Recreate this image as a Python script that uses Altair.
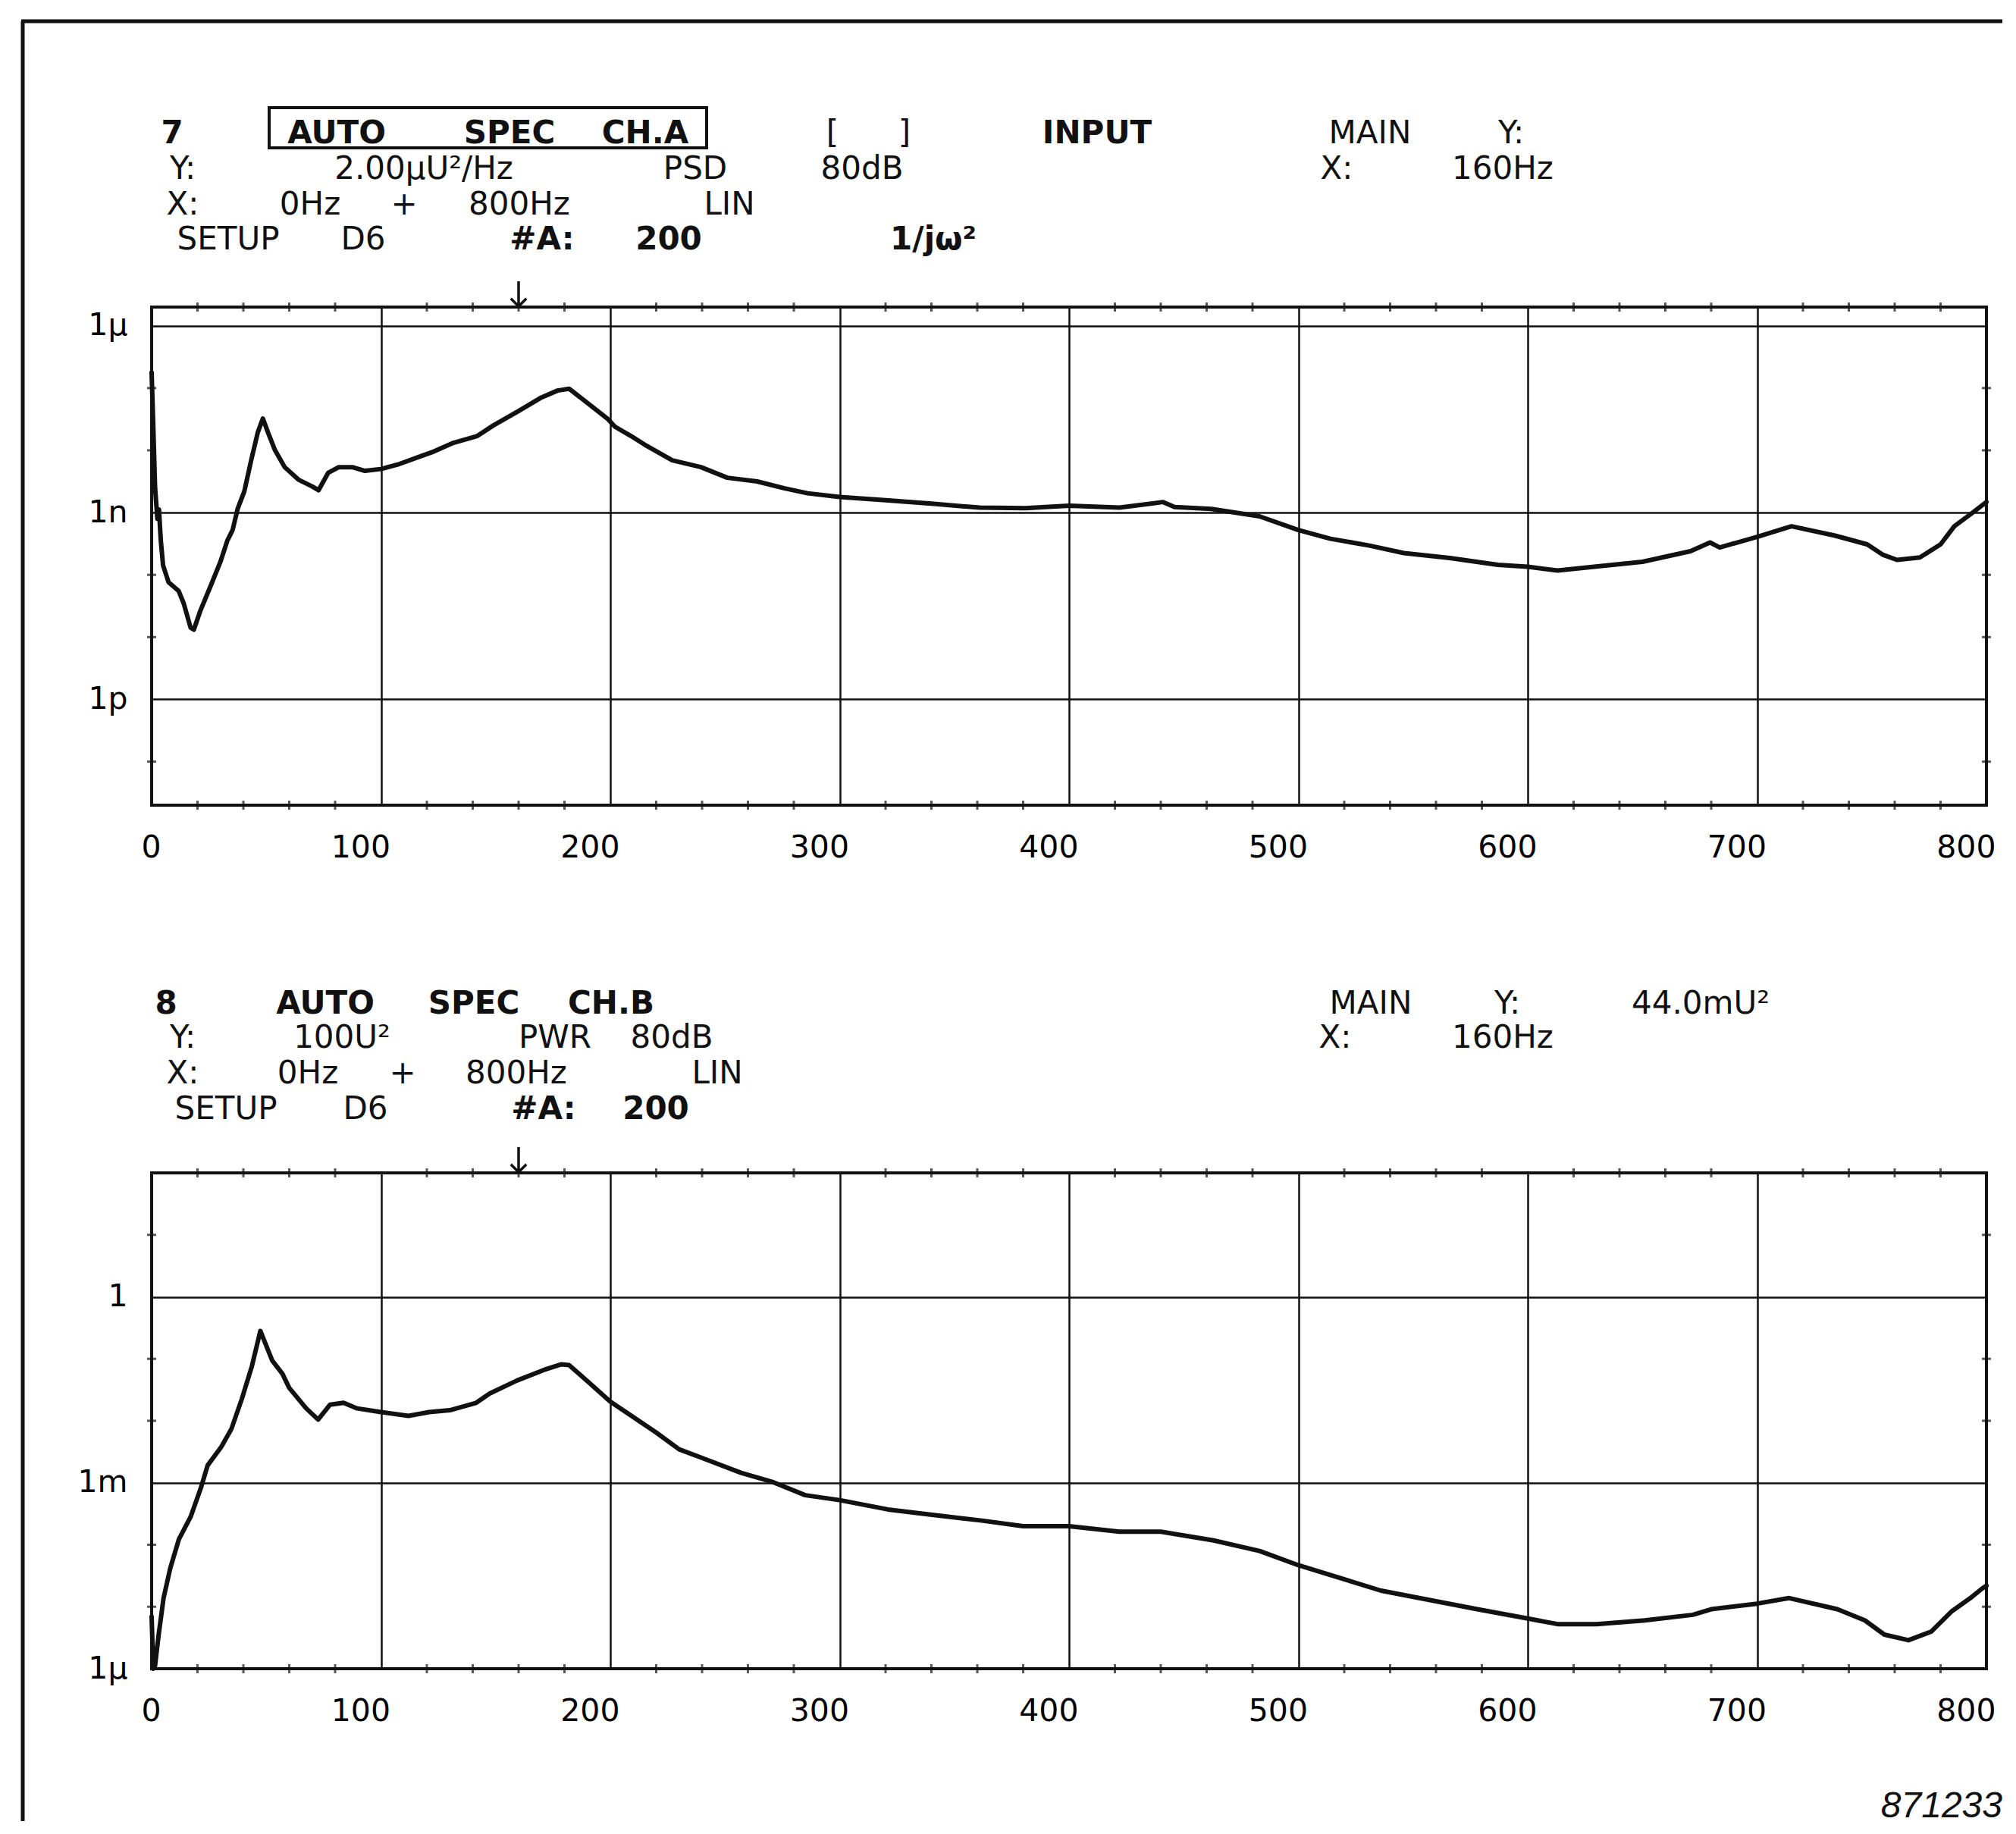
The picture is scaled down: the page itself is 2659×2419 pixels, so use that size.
import altair as alt
import pandas as pd

# ---------------- data ----------------
# Panel 7: AUTO SPEC CH.A, PSD, U^2/Hz  (frequency Hz, log10 of value)
freq_a = [0, 0.7, 1.5, 2.5, 3.2, 4, 5, 7.4, 11.8, 14, 17, 18.4, 21.3, 25.7, 30, 33,
          35.3, 37.5, 40.4, 43.4, 46.3, 48.5, 50.7, 53.7, 58, 64, 70, 72.8, 77, 81.6,
          87.5, 93, 100, 108, 117, 123, 131.6, 142, 149, 160, 170, 177, 182, 189, 199,
          202, 209, 215, 227, 239.5, 251, 264, 276, 286, 300, 320, 341, 361, 381, 400,
          422, 441, 446, 462, 483, 500, 514, 531, 546, 566, 587, 600, 613, 629, 650,
          671, 679.5, 683.7, 700, 715, 734, 748, 755, 761, 771, 780, 786, 794, 800]
exp_a = [-6.75, -7.6, -8.6, -9.1, -8.95, -9.45, -9.85, -10.12, -10.26, -10.46, -10.85,
         -10.88, -10.57, -10.18, -9.79, -9.45, -9.28, -8.94, -8.66, -8.16, -7.71, -7.49,
         -7.71, -7.99, -8.27, -8.47, -8.58, -8.64, -8.36, -8.27, -8.27, -8.33, -8.30,
         -8.22, -8.10, -8.02, -7.88, -7.77, -7.60, -7.37, -7.15, -7.04, -7.01, -7.21,
         -7.50, -7.62, -7.77, -7.91, -8.16, -8.27, -8.44, -8.50, -8.61, -8.69, -8.75,
         -8.80, -8.86, -8.92, -8.93, -8.89, -8.92, -8.83, -8.91, -8.94, -9.06, -9.28,
         -9.42, -9.53, -9.65, -9.73, -9.84, -9.87, -9.93, -9.87, -9.79, -9.62, -9.48,
         -9.56, -9.39, -9.22, -9.37, -9.51, -9.68, -9.76, -9.72, -9.51, -9.22, -9.00,
         -8.83]

# Panel 8: AUTO SPEC CH.B, PWR, U^2
freq_b = [0, 0.7, 1.5, 3, 5.2, 8.1, 11.9, 17, 21.5, 24.4, 30.4, 34.8, 39.3, 43.7, 47.4,
          52.6, 57, 60, 67.4, 72.6, 77.8, 83.7, 89.6, 100, 112, 121, 130, 141.5, 147.4,
          159.3, 171, 178.5, 182, 190, 200, 208, 220, 230, 240, 257, 271, 285, 300, 321,
          341, 362, 380, 400, 422, 440, 463, 483, 500, 515, 536, 557, 578, 600, 613, 630,
          651, 672, 680, 700, 714, 735, 747, 755.5, 766, 776, 785, 793, 798, 800]
exp_b = [-5.16, -6.0, -5.95, -5.47, -4.86, -4.38, -3.91, -3.55, -3.08, -2.72, -2.42,
         -2.13, -1.65, -1.12, -0.55, -1.03, -1.24, -1.47, -1.80, -1.98, -1.74, -1.71,
         -1.80, -1.86, -1.92, -1.86, -1.83, -1.71, -1.56, -1.35, -1.18, -1.09, -1.10,
         -1.36, -1.69, -1.89, -2.19, -2.46, -2.60, -2.84, -2.99, -3.20, -3.28, -3.43,
         -3.52, -3.61, -3.70, -3.70, -3.79, -3.79, -3.93, -4.10, -4.33, -4.50, -4.74,
         -4.89, -5.04, -5.19, -5.28, -5.28, -5.22, -5.13, -5.04, -4.95, -4.86, -5.04,
         -5.22, -5.45, -5.54, -5.40, -5.07, -4.86, -4.71, -4.66]

x_ticks = [0, 100, 200, 300, 400, 500, 600, 700, 800]
x_minor = [v for v in range(20, 800, 20) if v % 100]
marker_hz = [160]

y_domain_a = [2e-14, 2e-6]
y_grid_a = [1e-12, 1e-9, 1e-6]
y_labels_a = ["1p", "1n", "1μ"]
y_minor_a = [1e-13, 1e-11, 1e-10, 1e-8, 1e-7]

y_domain_b = [1e-6, 1e2]
y_grid_b = [1e-6, 1e-3, 1.0]
y_labels_b = ["1μ", "1m", "1"]
y_minor_b = [1e-5, 1e-4, 1e-2, 1e-1, 10.0]

# header words
words_a = ["7", "AUTO", "SPEC", "CH.A", "[", "]", "INPUT", "MAIN", "Y:",
           "Y:", "2.00μU²/Hz", "PSD", "80dB", "X:", "160Hz",
           "X:", "0Hz", "+", "800Hz", "LIN",
           "SETUP", "D6", "#A:", "200", "1/jω²"]
bold_a = ["7", "AUTO", "SPEC", "CH.A", "INPUT", "#A:", "200", "1/jω²"]
words_b = ["8", "AUTO", "SPEC", "CH.B", "MAIN", "Y:", "44.0mU²",
           "Y:", "100U²", "PWR", "80dB", "X:", "160Hz",
           "X:", "0Hz", "+", "800Hz", "LIN",
           "SETUP", "D6", "#A:", "200"]
bold_b = ["8", "AUTO", "SPEC", "CH.B", "#A:", "200"]
figure_id = "871233"

# ---------------- layout (pixels) ----------------
W = 2420
H_A = 657
H_B = 654
GAP = 485
X0 = 199  # page x of plot origin
FONT = "DejaVu Sans"
INK = "#111111"
HDR_SIZE = 42

cx_a = [226, 443, 671, 850, 1097, 1192, 1446, 1806, 1992,
        240, 558, 916, 1136, 1762, 1981,
        240, 408, 532, 684, 961,
        300, 478, 714, 881, 1230]
line_a = [0] * 9 + [1] * 6 + [2] * 5 + [3] * 5
base_a = [-216, -169, -122, -76]

cx_b = [218, 428, 624, 805, 1807, 1987, 2242,
        240, 450, 731, 885, 1760, 1981,
        240, 405, 530, 680, 945,
        297, 481, 716, 864]
line_b = [0] * 7 + [1] * 6 + [2] * 5 + [3] * 4
base_b = [-210, -165, -118, -71]

x_scale = alt.Scale(domain=[0, 800], nice=False, zero=False)
x_axis = alt.Axis(
    values=x_ticks, grid=True, gridColor=INK, gridWidth=2.5, gridOpacity=1,
    domain=False, ticks=False, labelAlign="right", labelOffset=12,
    labelPadding=36, labelBaseline="top", labelFont=FONT, labelFontSize=41,
    labelColor="black", labelFlush=False, labelOverlap=False, format="d",
    title=None)

one = pd.DataFrame({"k": [0]})


def label_expr(vals, labels):
    # map the grid values to their printed labels
    pairs = sorted(zip(vals, labels))
    expr = "'" + pairs[0][1] + "'"
    for v, lab in pairs[1:]:
        expr = f"datum.value >= {v * 0.5:g} ? '{lab}' : " + expr
    return expr


def header_layers(words, cxs, lines, bases, bold):
    out = []
    for w, c, l in zip(words, cxs, lines):
        out.append(
            alt.Chart(one).mark_text(
                align="center", baseline="alphabetic", font=FONT, fontSize=HDR_SIZE,
                fontWeight="bold" if w in bold else "normal", color=INK,
            ).encode(
                x=alt.value(c - X0), y=alt.value(bases[l]), text=alt.value(w),
            )
        )
    return out


def panel(freq, exps, ydom, ygrid, ylabels, yminor, H, hdr):
    y_scale = alt.Scale(type="log", domain=ydom, nice=False)
    y_axis = alt.Axis(
        values=ygrid, grid=True, gridColor=INK, gridWidth=2.5, gridOpacity=1,
        domain=False, ticks=False, labelExpr=label_expr(ygrid, ylabels),
        labelPadding=32, labelFont=FONT, labelFontSize=41, labelColor="black",
        labelFlush=False, labelOverlap=False, title=None)
    df = pd.DataFrame({"f": freq, "v": [10.0 ** e for e in exps]})
    line = alt.Chart(df).mark_line(
        color=INK, strokeWidth=6, strokeJoin="round", strokeCap="round"
    ).encode(
        x=alt.X("f:Q", scale=x_scale, axis=x_axis),
        y=alt.Y("v:Q", scale=y_scale, axis=y_axis),
    )
    xm = pd.DataFrame({"f": x_minor})
    ticks_top = alt.Chart(xm).mark_tick(color=INK, thickness=3, size=12).encode(
        x=alt.X("f:Q", scale=x_scale, axis=x_axis), y=alt.value(0))
    ticks_bot = alt.Chart(xm).mark_tick(color=INK, thickness=3, size=12).encode(
        x=alt.X("f:Q", scale=x_scale, axis=x_axis), y=alt.value(H))
    ym = pd.DataFrame({"v": yminor})
    ticks_l = alt.Chart(ym).mark_tick(color=INK, thickness=3, size=12).encode(
        y=alt.Y("v:Q", scale=y_scale, axis=y_axis), x=alt.value(0))
    ticks_r = alt.Chart(ym).mark_tick(color=INK, thickness=3, size=12).encode(
        y=alt.Y("v:Q", scale=y_scale, axis=y_axis), x=alt.value(W))
    mk = pd.DataFrame({"f": marker_hz})
    stem = alt.Chart(mk).mark_rule(color=INK, strokeWidth=3.5).encode(
        x=alt.X("f:Q", scale=x_scale, axis=x_axis), y=alt.value(-34), y2=alt.value(0))
    head = alt.Chart(mk).mark_point(
        shape="M -1 -1 L 0 0 L 1 -1", filled=False, color=INK, strokeWidth=3.5,
        size=420, opacity=1,
    ).encode(x=alt.X("f:Q", scale=x_scale, axis=x_axis), y=alt.value(-1))
    return [line, ticks_top, ticks_bot, ticks_l, ticks_r, stem, head] + hdr


# top panel
hdr_a = header_layers(words_a, cx_a, line_a, base_a, bold_a)
box = alt.Chart(one).mark_rect(filled=False, stroke=INK, strokeWidth=4).encode(
    x=alt.value(354 - X0), x2=alt.value(931 - X0), y=alt.value(-263), y2=alt.value(-210))
border_left = alt.Chart(one).mark_rule(color=INK, strokeWidth=5).encode(
    x=alt.value(-170), y=alt.value(-377), y2=alt.value(1997))
border_top = alt.Chart(one).mark_rule(color=INK, strokeWidth=5).encode(
    x=alt.value(-172), x2=alt.value(2441), y=alt.value(-377))
top = alt.layer(
    *panel(freq_a, exp_a, y_domain_a, y_grid_a, y_labels_a, y_minor_a, H_A, hdr_a),
    box, border_left, border_top,
).properties(width=W, height=H_A)

# bottom panel
hdr_b = header_layers(words_b, cx_b, line_b, base_b, bold_b)
fig_id = alt.Chart(one).mark_text(
    align="right", baseline="alphabetic", font="Liberation Sans", fontSize=48,
    fontStyle="italic", color=INK,
).encode(x=alt.value(2441), y=alt.value(850), text=alt.value(figure_id))
bottom = alt.layer(
    *panel(freq_b, exp_b, y_domain_b, y_grid_b, y_labels_b, y_minor_b, H_B, hdr_b),
    fig_id,
).properties(width=W, height=H_B)

chart = alt.vconcat(top, bottom, spacing=GAP, bounds="flush").properties(
    padding={"left": 15, "top": 15, "right": 2, "bottom": 2},
    background="white",
).configure_view(stroke=INK, strokeWidth=4)

chart.save("out.html", embed_options={"renderer": "svg", "actions": False})
